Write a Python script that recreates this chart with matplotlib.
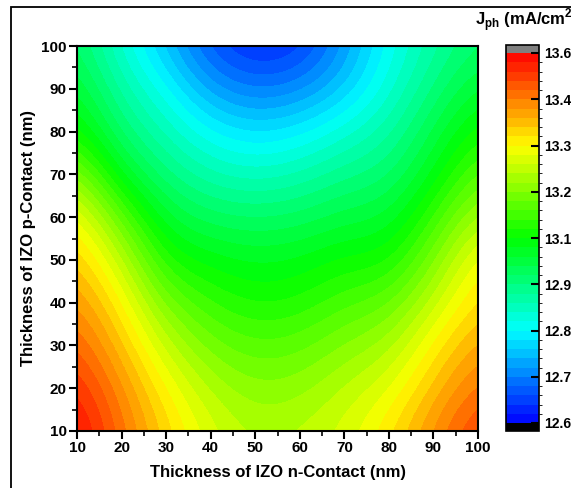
#!/usr/bin/env python3

import numpy as np
import matplotlib
matplotlib.use("Agg")
import matplotlib.pyplot as plt
from matplotlib.colors import LinearSegmentedColormap, ListedColormap, BoundaryNorm

plt.rcParams["font.family"] = ["Liberation Sans", "DejaVu Sans"]
plt.rcParams["font.weight"] = "bold"
plt.rcParams["mathtext.fontset"] = "custom"
plt.rcParams["mathtext.rm"] = "Liberation Sans:bold"
plt.rcParams["mathtext.bf"] = "Liberation Sans:bold"

# thickness grid (nm)
n_contact = [10, 20, 30, 40, 50, 60, 70, 80, 90, 100]
p_contact = [10, 20, 30, 40, 50, 60, 70, 80, 90, 100]

# Jph (mA/cm2), one row per p-contact thickness, columns along n-contact
jph = [
    [13.61, 13.50, 13.40, 13.32, 13.28, 13.29, 13.32, 13.38, 13.47, 13.55],
    [13.57, 13.47, 13.36, 13.28, 13.24, 13.25, 13.29, 13.33, 13.42, 13.50],
    [13.52, 13.42, 13.30, 13.22, 13.19, 13.20, 13.24, 13.27, 13.37, 13.45],
    [13.47, 13.37, 13.22, 13.16, 13.13, 13.14, 13.18, 13.20, 13.30, 13.40],
    [13.42, 13.30, 13.13, 13.10, 13.08, 13.09, 13.12, 13.12, 13.23, 13.36],
    [13.36, 13.20, 13.06, 13.02, 13.01, 13.02, 13.05, 13.06, 13.16, 13.28],
    [13.25, 13.08, 12.99, 12.94, 12.92, 12.94, 12.98, 13.00, 13.09, 13.20],
    [13.13, 13.00, 12.93, 12.86, 12.83, 12.85, 12.90, 12.95, 13.04, 13.13],
    [13.07, 12.95, 12.87, 12.77, 12.73, 12.75, 12.81, 12.90, 12.99, 13.07],
    [13.02, 12.90, 12.80, 12.69, 12.64, 12.66, 12.76, 12.87, 12.95, 13.01],
]

cbar_ticks = [12.61, 12.735, 12.86, 12.985, 13.11, 13.235, 13.36, 13.485, 13.61]
cbar_labels = ["12.61", "12.73", "12.86", "12.98", "13.11", "13.23", "13.36", "13.48", "13.61"]

W, H = 571, 488
fig = plt.figure(figsize=(W / 100, H / 100), dpi=100)

# band levels and rainbow map
nbands = 40
levels = np.linspace(cbar_ticks[0], cbar_ticks[-1], nbands + 1)
base = LinearSegmentedColormap.from_list(
    "rainbow_origin", ["#0000ff", "#00ffff", "#00ff00", "#ffff00", "#ff0000"])
cmap = ListedColormap(base((np.arange(nbands) + 0.5) / nbands))
cmap.set_over("#808080")
cmap.set_under("#000000")
norm = BoundaryNorm(levels, cmap.N)

ax = fig.add_axes([77 / W, 1 - 431 / H, 401 / W, 385 / H])
im = ax.imshow(np.array(jph), origin="lower", extent=(5, 105, 5, 105),
               cmap=cmap, norm=norm, interpolation="bicubic",
               interpolation_stage="data", aspect="auto")
ax.set_xlim(10, 100)
ax.set_ylim(10, 100)
ax.set_xticks(n_contact)
ax.set_yticks(p_contact)
ax.set_xticks(np.arange(15, 100, 10), minor=True)
ax.set_yticks(np.arange(15, 100, 10), minor=True)
ax.tick_params(which="major", direction="out", length=6, width=1.5, labelsize=11, pad=1.5)
ax.tick_params(which="minor", direction="out", length=3.5, width=1.2)
for s in ax.spines.values():
    s.set_linewidth(1.5)

ax.set_xlabel("Thickness of IZO n-Contact (nm)", fontsize=12, fontweight="bold", labelpad=7)
ax.set_ylabel("Thickness of IZO p-Contact (nm)", fontsize=12, fontweight="bold", labelpad=4)

cax = fig.add_axes([506 / W, 1 - 431 / H, 33 / W, 386 / H])
cb = fig.colorbar(im, cax=cax, extend="both", extendrect=True,
                  extendfrac=8 / 370, ticks=cbar_ticks)
cb.ax.set_yticklabels(cbar_labels)
cb.ax.tick_params(direction="in", length=6, width=1.5, labelsize=10, pad=4)
cb.outline.set_linewidth(1.2)

fig.text(475 / W, 1 - 20 / H, r"J$_{\mathbf{ph}}$ (mA/cm$^{\mathbf{2}}$)",
         fontsize=12, fontweight="bold", ha="left", va="center")

# outer frame of the original figure
frame = plt.Rectangle((11 / W, -0.1), 2, (H - 7) / H + 0.1, transform=fig.transFigure,
                      fill=False, lw=1.3, edgecolor="black")
fig.patches.append(frame)

fig.savefig("out.png", dpi=100)
